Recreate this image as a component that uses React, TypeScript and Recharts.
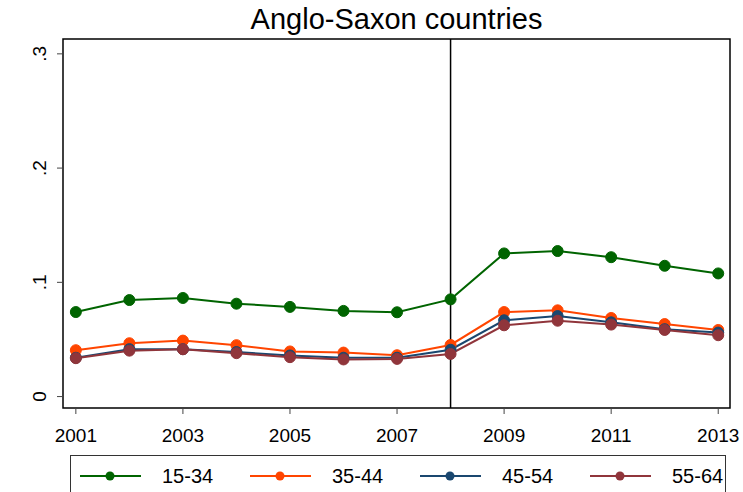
import React from "react";
import { LineChart, Line, XAxis, YAxis, ReferenceLine, ReferenceArea } from "recharts";

const years = [2001, 2002, 2003, 2004, 2005, 2006, 2007, 2008, 2009, 2010, 2011, 2012, 2013];
const age1534 = [0.074, 0.0845, 0.0863, 0.0813, 0.0785, 0.075, 0.0738, 0.0851, 0.1253, 0.1274, 0.122, 0.1145, 0.1078];
const age3544 = [0.0406, 0.0467, 0.049, 0.045, 0.0395, 0.0385, 0.0362, 0.0452, 0.074, 0.0755, 0.0688, 0.0635, 0.0583];
const age4554 = [0.034, 0.0415, 0.0415, 0.039, 0.036, 0.034, 0.034, 0.041, 0.0668, 0.0705, 0.065, 0.059, 0.056];
const age5564 = [0.0336, 0.0402, 0.0414, 0.038, 0.0345, 0.0325, 0.033, 0.0373, 0.0624, 0.0664, 0.063, 0.0583, 0.0537];

const seriesNames = ["15-34", "35-44", "45-54", "55-64"];
const seriesKeys = ["a1534", "a3544", "a4554", "a5564"];
const seriesColors = ["#006400", "#ff4500", "#1a476f", "#90353b"];

const xTicks = [2001, 2003, 2005, 2007, 2009, 2011, 2013];
const yTicks = [0, 0.1, 0.2, 0.3];
const yTickLabels = ["0", ".1", ".2", ".3"];
const xDomain = [2000.76, 2013.22];
const yDomain = [-0.01, 0.313];
const breakYear = 2008;
const title = "Anglo-Saxon countries";

const data = years.map((yr, i) => ({
  year: yr,
  a1534: age1534[i],
  a3544: age3544[i],
  a4554: age4554[i],
  a5564: age5564[i],
}));

const FONT = "'Liberation Sans', Arial, sans-serif";

const XTick = (props: any) => {
  const { x, y, payload } = props;
  return (
    <text x={x} y={y + 26} textAnchor="middle" fontSize={19} fontFamily={FONT} fill="#000">
      {payload.value}
    </text>
  );
};

const YTick = (props: any) => {
  const { x, y, payload } = props;
  const idx = yTicks.indexOf(payload.value);
  const label = idx >= 0 ? yTickLabels[idx] : String(payload.value);
  const bx = x - 9;
  return (
    <text
      x={bx}
      y={y}
      transform={`rotate(-90, ${bx}, ${y})`}
      textAnchor="middle"
      fontSize={19}
      fontFamily={FONT}
      fill="#000"
    >
      {label}
    </text>
  );
};

export default function App() {
  return (
    <div style={{ position: "absolute", left: 0, top: 0, width: 743, height: 492, background: "#fff", overflow: "hidden" }}>
      <div
        style={{
          position: "absolute",
          left: 63,
          top: 5,
          width: 667,
          textAlign: "center",
          fontFamily: FONT,
          fontSize: 29,
          lineHeight: "29px",
          color: "#000",
        }}
      >
        {title}
      </div>
      <LineChart
        width={743}
        height={492}
        data={data}
        margin={{ top: 39, right: 13, left: 0, bottom: 54 }}
      >
        <XAxis
          dataKey="year"
          type="number"
          domain={xDomain}
          ticks={xTicks}
          allowDataOverflow
          axisLine={false}
          tickLine={{ stroke: "#444", strokeWidth: 1 }}
          tickSize={6}
          tickMargin={2}
          height={30}
          tick={<XTick />}
          interval={0}
        />
        <YAxis
          type="number"
          domain={yDomain}
          ticks={yTicks}
          allowDataOverflow
          axisLine={false}
          tickLine={{ stroke: "#444", strokeWidth: 1 }}
          tickSize={6}
          tickMargin={2}
          width={63}
          tick={<YTick />}
          interval={0}
        />
        <ReferenceArea
          x1={xDomain[0]}
          x2={xDomain[1]}
          y1={yDomain[0]}
          y2={yDomain[1]}
          fill="none"
          fillOpacity={0}
          stroke="#000"
          strokeWidth={1.5}
          strokeOpacity={1}
        />
        <ReferenceLine x={breakYear} stroke="#000" strokeWidth={1.5} />
        {seriesKeys.map((k, i) => (
          <Line
            key={k}
            dataKey={k}
            name={seriesNames[i]}
            stroke={seriesColors[i]}
            strokeWidth={2}
            dot={{ r: 5.5, fill: seriesColors[i], stroke: seriesColors[i], strokeWidth: 1 }}
            isAnimationActive={false}
          />
        ))}
      </LineChart>
      <div
        style={{
          position: "absolute",
          left: 70,
          top: 455,
          width: 654,
          height: 60,
          border: "1.5px solid #333",
          overflow: "hidden",
          fontFamily: FONT,
          fontSize: 20,
          background: "#fff",
        }}
      >
        {seriesNames.map((n, i) => (
          <div key={n} style={{ position: "absolute", left: 8 + i * 170, top: 6, height: 28, display: "flex", alignItems: "center" }}>
            <svg width={63} height={28} style={{ display: "block" }}>
              <line x1={1} y1={14} x2={62} y2={14} stroke={seriesColors[i]} strokeWidth={2} />
              <circle cx={31} cy={14} r={4.5} fill={seriesColors[i]} />
            </svg>
            <span style={{ marginLeft: 20, color: "#000", lineHeight: "28px" }}>{n}</span>
          </div>
        ))}
      </div>
    </div>
  );
}
